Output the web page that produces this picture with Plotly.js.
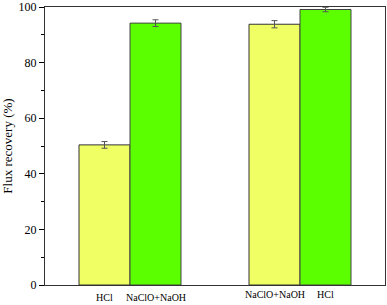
<!DOCTYPE html>
<html><head><meta charset="utf-8">
<script src="https://cdn.plot.ly/plotly-3.0.1.min.js"></script>
<style>html,body{margin:0;padding:0;background:#fff}#c{width:387px;height:305px}</style>
</head><body><div id="c"></div>
<script>
const groups = ['G1', 'G2'];
const yellowLabels = ['HCl', 'NaClO+NaOH'];
const greenLabels = ['NaClO+NaOH', 'HCl'];
const yellowValues = [50.4, 93.8];
const yellowErr = [1.2, 1.3];
const greenValues = [94.2, 99.1];
const greenErr = [1.2, 0.8];

const traces = [
  {type:'bar', x:groups, y:yellowValues, marker:{color:'#F0FF64', line:{color:'#333', width:1}},
   error_y:{type:'data', array:yellowErr, visible:true, color:'#555', thickness:1, width:3}},
  {type:'bar', x:groups, y:greenValues, marker:{color:'#5CFF00', line:{color:'#444', width:1}},
   error_y:{type:'data', array:greenErr, visible:true, color:'#555', thickness:1, width:3}}
];

const annotations = [];
const yshifts = [-12, -9];
groups.forEach((g, i) => {
  annotations.push({x:g, y:0, xref:'x', yref:'paper', xshift:-25.5, yshift:yshifts[i], text:yellowLabels[i], showarrow:false, yanchor:'middle', font:{family:'Liberation Serif', size:10, color:'#000'}});
  annotations.push({x:g, y:0, xref:'x', yref:'paper', xshift:25.5, yshift:yshifts[i], text:greenLabels[i], showarrow:false, yanchor:'middle', font:{family:'Liberation Serif', size:10, color:'#000'}});
});

const layout = {
  width:387, height:305, margin:{l:45, r:2, t:7, b:20},
  paper_bgcolor:'#fff', plot_bgcolor:'#fff', showlegend:false,
  barmode:'group', bargap:0.4, bargroupgap:0,
  font:{family:'Liberation Serif', color:'#000'},
  xaxis:{type:'category', range:[-0.5,1.5], showticklabels:false, ticks:'', showgrid:false, zeroline:false,
         showline:true, linecolor:'#333', linewidth:1, mirror:true},
  yaxis:{range:[0,100], tickvals:[0,20,40,60,80,100], ticks:'outside', ticklen:5, tickcolor:'#000',
         minor:{dtick:10, ticks:'outside', ticklen:3, tickcolor:'#000', showgrid:false},
         showgrid:false, zeroline:false, showline:true, linecolor:'#333', linewidth:1, mirror:true,
         tickfont:{family:'Liberation Serif', size:12, color:'#000'},
         title:{text:'Flux recovery (%)', font:{family:'Liberation Serif', size:13, color:'#000'}, standoff:6}},
  annotations:annotations
};
Plotly.newPlot('c', traces, layout, {staticPlot:true});
</script></body></html>
